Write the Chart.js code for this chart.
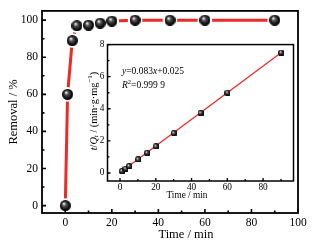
<!DOCTYPE html>
<html>
<head>
<meta charset="utf-8">
<script src="https://cdn.jsdelivr.net/npm/chart.js@4/dist/chart.umd.min.js"></script>
<style>
  body { margin: 0; background: #fff; }
  #wrap { position: relative; width: 314px; height: 246px; }
  #main { position: absolute; left: 0; top: 0; }
  #inset { position: absolute; left: 80px; top: 36px; }
</style>
</head>
<body>
<div id="wrap">
  <canvas id="main" width="314" height="246"></canvas>
  <canvas id="inset" width="220" height="170"></canvas>
</div>
<script>
// main plot: removal vs time
const timeMin = [0, 1, 3, 5, 10, 15, 20, 30, 45, 60, 90];
const removalPct = [0, 60, 89, 97, 97.3, 98.4, 99.5, 100, 100, 100, 100];
const mainXTicks = [0, 20, 40, 60, 80, 100];
const mainXMinor = [10, 30, 50, 70, 90];
const mainYTicks = [0, 20, 40, 60, 80, 100];
const mainYMinor = [10, 30, 50, 70, 90];

// inset: t/Qt vs time with linear fit
const insetTime = [1, 3, 5, 10, 15, 20, 30, 45, 60, 90];
const tOverQt = [0.12, 0.27, 0.43, 0.85, 1.26, 1.66, 2.49, 3.74, 5.0, 7.5];
const fitTime = [1, 90];
const fitValue = [0.108, 7.495];
const insetXTicks = [0, 20, 40, 60, 80];
const insetXMinor = [10, 30, 50, 70, 90];
const insetYTicks = [0, 2, 4, 6, 8];
const insetYMinor = [1, 3, 5, 7];

const SERIF = '"Liberation Serif", "DejaVu Serif", serif';
const RED = '#ee2a26';

function sphere(d) {
    const c = document.createElement('canvas');
    c.width = d;
    c.height = d;
    const g = c.getContext('2d');
    const grad = g.createRadialGradient(d * 0.36, d * 0.32, d * 0.04, d / 2, d / 2, d / 2);
    grad.addColorStop(0, '#eeeeee');
    grad.addColorStop(0.3, '#555');
    grad.addColorStop(0.75, '#111');
    grad.addColorStop(1, '#000');
    g.fillStyle = grad;
    g.beginPath();
    g.arc(d / 2, d / 2, d / 2, 0, Math.PI * 2);
    g.fill();
    return c;
}

function pairs(xs, ys) {
    return xs.map((x, i) => ({ x: x, y: ys[i] }));
}

// draw text made of parts (italic / sup / sub)
function drawRich(ctx, parts, x, y, size) {
    let cx = x;
    for (let p of parts) {
        const s = (p.sup || p.sub) ? size * 0.68 : size;
        ctx.font = (p.i ? 'italic ' : '') + s + 'px ' + SERIF;
        let dy = 0;
        if (p.sup) dy = -size * 0.38;
        if (p.sub) dy = size * 0.22;
        ctx.fillText(p.t, cx, y + dy);
        cx += ctx.measureText(p.t).width;
    }
    return cx - x;
}

function richWidth(ctx, parts, size) {
    let w = 0;
    for (let p of parts) {
        const s = (p.sup || p.sub) ? size * 0.68 : size;
        ctx.font = (p.i ? 'italic ' : '') + s + 'px ' + SERIF;
        w += ctx.measureText(p.t).width;
    }
    return w;
}

function frameAndTicks(chart, xMaj, xMin, yMaj, yMin, lw, majLen, minLen) {
    const ctx = chart.ctx;
    const a = chart.chartArea;
    const xs = chart.scales.x;
    const ys = chart.scales.y;
    ctx.save();
    ctx.strokeStyle = '#000';
    ctx.lineWidth = lw;
    ctx.strokeRect(a.left, a.top, a.right - a.left, a.bottom - a.top);
    ctx.lineWidth = lw * 0.9;
    ctx.beginPath();
    for (let v of xMaj) {
        const px = xs.getPixelForValue(v);
        ctx.moveTo(px, a.bottom);
        ctx.lineTo(px, a.bottom - majLen);
    }
    for (let v of xMin) {
        const px = xs.getPixelForValue(v);
        ctx.moveTo(px, a.bottom);
        ctx.lineTo(px, a.bottom - minLen);
    }
    for (let v of yMaj) {
        const py = ys.getPixelForValue(v);
        ctx.moveTo(a.left, py);
        ctx.lineTo(a.left + majLen, py);
    }
    for (let v of yMin) {
        const py = ys.getPixelForValue(v);
        ctx.moveTo(a.left, py);
        ctx.lineTo(a.left + minLen, py);
    }
    ctx.stroke();
    ctx.restore();
}

const mainPlugin = {
    id: 'mainDeco',
    afterDraw(chart) {
        frameAndTicks(chart, mainXTicks, mainXMinor, mainYTicks, mainYMinor, 1.8, 4, 2.5);
        const ctx = chart.ctx;
        const a = chart.chartArea;
        ctx.save();
        ctx.fillStyle = '#000';
        ctx.font = '12.5px ' + SERIF;
        ctx.textAlign = 'center';
        ctx.textBaseline = 'middle';
        ctx.fillText('Time / min', a.left + 144, 235);
        ctx.restore();
    }
};

const insetPlugin = {
    id: 'insetDeco',
    afterDraw(chart) {
        frameAndTicks(chart, insetXTicks, insetXMinor, insetYTicks, insetYMinor, 1.5, 3, 2);
        const ctx = chart.ctx;
        const a = chart.chartArea;
        ctx.save();
        ctx.fillStyle = '#000';
        ctx.textBaseline = 'alphabetic';
        ctx.textAlign = 'left';
        drawRich(ctx, [{ t: 'y', i: true }, { t: '=0.083' }, { t: 'x', i: true }, { t: '+0.025' }],
            a.left + 14.5, 38, 9.5);
        drawRich(ctx, [{ t: 'R', i: true }, { t: '2', sup: true }, { t: '=0.999 9' }],
            a.left + 14.5, 51.5, 9.5);

        ctx.textAlign = 'center';
        ctx.textBaseline = 'middle';
        ctx.font = '9.3px ' + SERIF;
        ctx.fillText('Time / min', a.left + 79.5, 159.5);

        // rotated y title
        const parts = [
            { t: 't', i: true }, { t: '/' }, { t: 'Q', i: true }, { t: 't', i: true, sub: true },
            { t: ' / (min\u00b7g\u00b7mg' }, { t: '\u22121', sup: true }, { t: ')' }
        ];
        const size = 10.3;
        ctx.textAlign = 'left';
        const w = richWidth(ctx, parts, size);
        ctx.translate(10.5, 75);
        ctx.rotate(-Math.PI / 2);
        drawRich(ctx, parts, -w / 2, 3.5, size);
        ctx.restore();
    }
};

const bigBall = sphere(11);
const smallBall = sphere(6.5);

new Chart(document.getElementById('main'), { // eslint-disable-line
    type: 'scatter',
    data: {
        datasets: [
            {
                data: pairs(timeMin, removalPct),
                pointStyle: bigBall,
                pointRadius: 5.5
            },
            {
                data: pairs(timeMin, removalPct),
                pointStyle: 'circle',
                pointRadius: 7.3,
                pointBackgroundColor: '#fff',
                pointBorderWidth: 0
            },
            {
                data: pairs(timeMin, removalPct),
                showLine: true,
                borderColor: RED,
                borderWidth: 3,
                pointRadius: 0
            }
        ]
    },
    plugins: [mainPlugin],
    options: {
        responsive: false,
        animation: false,
        events: [],
        layout: { padding: { top: 7, right: 16, left: 0, bottom: 0 } },
        plugins: { legend: { display: false }, tooltip: { enabled: false } },
        scales: {
            x: {
                type: 'linear',
                min: -10,
                max: 100,
                grid: { display: false, drawTicks: false },
                border: { display: false },
                afterBuildTicks: s => { s.ticks = mainXTicks.map(v => ({ value: v })); },
                afterFit: s => { s.height = 33; },
                ticks: { color: '#000', padding: 3, font: { family: SERIF, size: 11.5 }, maxRotation: 0 }
            },
            y: {
                min: -4,
                max: 105,
                grid: { display: false, drawTicks: false },
                border: { display: false },
                afterBuildTicks: s => { s.ticks = mainYTicks.map(v => ({ value: v })); },
                afterFit: s => { s.width = 42; },
                ticks: { color: '#000', padding: 4, font: { family: SERIF, size: 11.5 } },
                title: {
                    display: true,
                    text: 'Removal / %',
                    color: '#000',
                    font: { family: SERIF, size: 12.5 },
                    padding: { top: 6, bottom: 0 }
                }
            }
        }
    }
});

new Chart(document.getElementById('inset'), { // eslint-disable-line
    type: 'scatter',
    data: {
        datasets: [
            {
                data: pairs(insetTime, tOverQt),
                pointStyle: smallBall,
                pointRadius: 3.3
            },
            {
                data: pairs(fitTime, fitValue),
                showLine: true,
                borderColor: RED,
                borderWidth: 1.3,
                pointRadius: 0
            }
        ]
    },
    plugins: [insetPlugin],
    options: {
        responsive: false,
        animation: false,
        events: [],
        layout: { padding: { top: 8.3, right: 6.5, left: 0, bottom: 0 } },
        plugins: { legend: { display: false }, tooltip: { enabled: false } },
        scales: {
            x: {
                type: 'linear',
                min: -7,
                max: 97,
                grid: { display: false, drawTicks: false },
                border: { display: false },
                afterBuildTicks: s => { s.ticks = insetXTicks.map(v => ({ value: v })); },
                afterFit: s => { s.height = 25; },
                ticks: { color: '#000', padding: 1, font: { family: SERIF, size: 9.3 }, maxRotation: 0 }
            },
            y: {
                min: -0.5,
                max: 8,
                grid: { display: false, drawTicks: false },
                border: { display: false },
                afterBuildTicks: s => { s.ticks = insetYTicks.map(v => ({ value: v })); },
                afterFit: s => { s.width = 27.5; },
                ticks: { color: '#000', padding: 3, font: { family: SERIF, size: 9.3 } }
            }
        }
    }
});
</script>
</body>
</html>
